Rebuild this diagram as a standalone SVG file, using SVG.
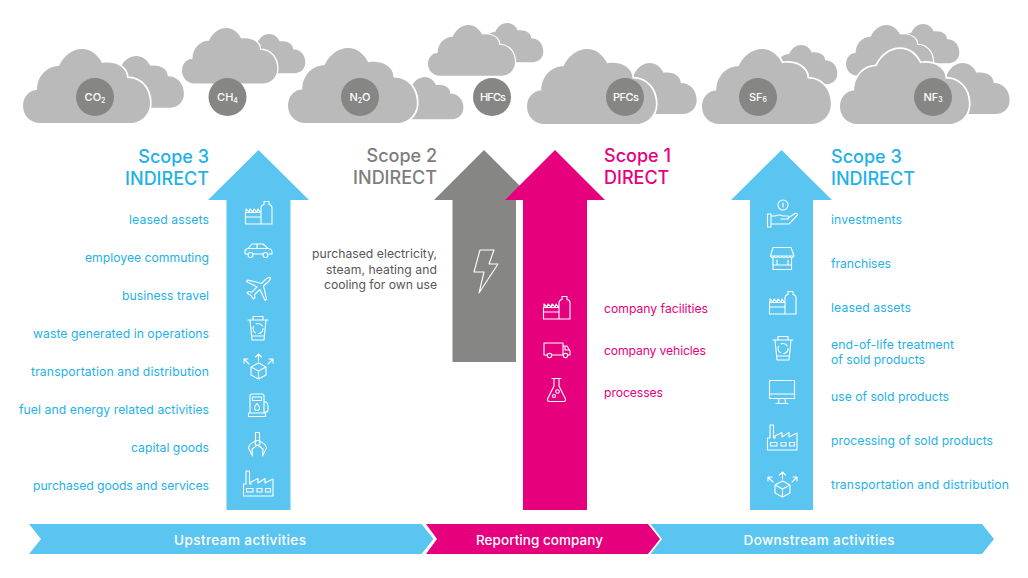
<svg xmlns="http://www.w3.org/2000/svg" width="1028" height="578" viewBox="0 0 1028 578">
<style>
text{font-family:Inter,"Liberation Sans",sans-serif}
.c{fill:#bababa;stroke:#fff;stroke-width:3.4;paint-order:stroke;vector-effect:non-scaling-stroke}
.g{fill:#868684}
.gl{fill:#fff;font-size:11px;font-weight:500;text-anchor:middle}
.i{fill:none;stroke:#fff;stroke-width:1.1;stroke-linejoin:round;stroke-linecap:round}
.h{font-size:18px;font-weight:500}
.t{font-size:12.2px}
.b{fill:#5bc5f2}.p{fill:#e6007e}
.tb{fill:#1eb1e8}.tp{fill:#e6007e}
.e{text-anchor:end}
.bar{fill:#fff;font-size:13.5px;font-weight:500;text-anchor:middle}
.sub{font-size:7px}
</style>
<defs>
<path id="cloud" d="M17 74C7 74 0 66 0 57C0 48 6 41 14 41C14 27 24 17 36 17C41 6 50 0 59 0C68 0 75 6 79 14C92 12 104 18 104 29C118 29 127 40 127 54C127 66 118 74 107 74Z"/>
<g id="i-lease" class="i"><path d="M16 24V8Q16 5 19 4.500V1.500H24V4.500Q27 5 27 8V24ZM16 24H.5V12.500H16M.5 17H16M1 12.500V9L4 12L5 9L8 12L9 9L12 12L13 9L15.500 12.500"/></g>
<g id="i-bin" class="i"><path d="M0 5H20M5 5V1.500H15V5M2 5L4 25H16L18 5M3.500 21H16.500"/><circle cx="10" cy="13.500" r="5" stroke-dasharray="7 3.500"/></g>
<g id="i-box" class="i"><path d="M15.500 10L23 14V22L15.500 26L8 22V14ZM8 14L15.500 18L23 14M15.500 18V26M15.500 8V1M12.500 4L15.500 1L18.500 4M6 11L1 6M1 10V6H5M25 11L30 6M26 6H30V10"/></g>
<g id="i-fact" class="i"><path d="M.5 26V14H3V1H6.500V14L8 14L8 12L15 8.500V13L22 8.500V13L30 9V26ZM3.500 18.500H10V22H3.500ZM14 18.500H19V22H14ZM22.500 18.500H27.500V22H22.500Z"/></g>
</defs>
<g id="clouds">
<g id="cloud-co2"><use href="#cloud" class="c" transform="translate(95 56) scale(.7)"/><use href="#cloud" class="c" transform="translate(23 49)"/><circle class="g" cx="95" cy="97" r="19"/><text class="gl" x="95" y="101">CO<tspan class="sub" dy="2">2</tspan></text></g>
<g id="cloud-ch4"><use href="#cloud" class="c" transform="translate(238 34) scale(.53)"/><use href="#cloud" class="c" transform="translate(182 28) scale(.75)"/><circle class="g" cx="227.500" cy="97" r="19"/><text class="gl" x="227.500" y="101">CH<tspan class="sub" dy="2">4</tspan></text></g>
<g id="cloud-n2o"><use href="#cloud" class="c" transform="translate(391 77) scale(.57)"/><use href="#cloud" class="c" transform="translate(288 48) scale(1.015)"/><circle class="g" cx="360" cy="97" r="19"/><text class="gl" x="360" y="101">N<tspan class="sub" dy="2">2</tspan><tspan dy="-2">O</tspan></text></g>
<g id="cloud-hfcs"><use href="#cloud" class="c" transform="translate(476 23) scale(.53)"/><use href="#cloud" class="c" transform="translate(428 25) scale(.685)"/><circle class="g" cx="492" cy="97" r="19"/><text class="gl" x="493" y="101" textLength="26">HFCs</text></g>
<g id="cloud-pfcs"><use href="#cloud" class="c" transform="translate(609 63) scale(.69)"/><use href="#cloud" class="c" transform="translate(527 49) scale(1.015)"/><circle class="g" cx="625" cy="97" r="19"/><text class="gl" x="626" y="101" textLength="26">PFCs</text></g>
<g id="cloud-sf6"><use href="#cloud" class="c" transform="translate(770 45) scale(.53)"/><use href="#cloud" class="c" transform="translate(702 49) scale(1.015)"/><circle class="g" cx="758" cy="97" r="19"/><text class="gl" x="758" y="101">SF<tspan class="sub" dy="1">6</tspan></text></g>
<g id="cloud-nf3"><use href="#cloud" class="c" transform="translate(892 24) scale(.53)"/><use href="#cloud" class="c" transform="translate(846 25) scale(.685)"/><use href="#cloud" class="c" transform="translate(922 63) scale(.69)"/><use href="#cloud" class="c" transform="translate(840 49) scale(1.015)"/><circle class="g" cx="933" cy="97" r="19"/><text class="gl" x="933" y="101">NF<tspan class="sub" dy="1">3</tspan></text></g>
</g>
<g id="connectors">
<path id="arrow-scope3-up" class="b" d="M258.500 150L309 200H290.500V510H226.500V200H208Z"/>
<path id="arrow-scope2" fill="#868684" d="M484 150L534 200H516V362H452.500V200H434Z"/>
<path id="arrow-scope1" class="p" d="M555 150L605 200H587V510H523V200H505Z"/>
<path id="arrow-scope3-down" class="b" d="M781.500 150L832 200H813V510H750V200H731Z"/>
</g>
<g id="scope3-upstream">
<text class="h tb e" x="209" y="163">Scope 3</text><text class="h tb e" x="209" y="185">INDIRECT</text>
<g class="t tb e">
<text x="209" y="224" textLength="80">leased assets</text><text x="209" y="262" textLength="124">employee commuting</text><text x="209" y="300" textLength="87">business travel</text><text x="209" y="338" textLength="176">waste generated in operations</text><text x="209" y="376" textLength="178">transportation and distribution</text><text x="209" y="414" textLength="190">fuel and energy related activities</text><text x="209" y="452" textLength="78">capital goods</text><text x="209" y="490" textLength="176">purchased goods and services</text>
</g>
<use href="#i-lease" x="245" y="200"/>
<g class="i" transform="translate(244 243)"><path d="M4 11H1V8Q1 6 4 5.500L8 1H19L24 5.500Q28 6 28 9V11H25M19 11H9M5 5.500H24M13 1V5.500"/><circle cx="6.500" cy="12" r="2.500"/><circle cx="21.500" cy="12" r="2.500"/></g>
<g class="i" transform="translate(246 277)"><path d="M24.500 .5C23 0 21 1 19 3L15.500 6.500L2 3L.5 4.500L11 10L6 15L2.500 14.500L1 16L5 18.500L7.500 22L9 20.500L8.500 17.500L14 12.500L19 23.500L20.500 22L17.500 9L22 5C24 3 25 1.500 24.500 .5Z"/></g>
<use href="#i-bin" x="248" y="315"/>
<use href="#i-box" x="243" y="353"/>
<g class="i" transform="translate(248 393)"><path d="M2 20V3Q2 1 4 1H14Q16 1 16 3V20M.5 20H17.500V23.500H.5ZM4.500 4H13.500V7.500H4.500ZM9 10.500C7.500 12.500 6.500 13.500 6.500 15A2.500 2.500 0 0 0 11.500 15C11.500 13.500 10.500 12.500 9 10.500ZM16 9H18Q20 10 20 13V17Q20 19 18 19H16"/></g>
<g class="i" transform="translate(248 432)"><path d="M7.500 9V.5H11.500V9M7.500 9Q1 12 .5 16L4.500 24L4 17L9.500 13L15 17L14.500 24L18.500 16Q18 12 11.500 9"/><circle cx="9.500" cy="11" r="2.500"/></g>
<use href="#i-fact" x="243" y="470"/>
</g>
<g id="scope2">
<text class="h e" fill="#7d7d7c" x="437" y="162">Scope 2</text><text class="h e" fill="#7d7d7c" x="437" y="184">INDIRECT</text>
<g class="t e" fill="#575756"><text x="437" y="258" textLength="125">purchased electricity,</text><text x="437" y="274" textLength="111">steam, heating and</text><text x="437" y="289" textLength="113">cooling for own use</text></g>
<path class="i" d="M480 250H494L489 264H498L479 293L484 272H474Z"/>
</g>
<g id="scope1">
<text class="h tp" x="604" y="162">Scope 1</text><text class="h tp" x="604" y="184">DIRECT</text>
<g class="t tp"><text x="604" y="313" textLength="104">company facilities</text><text x="604" y="355" textLength="102">company vehicles</text><text x="604" y="397" textLength="59">processes</text></g>
<use href="#i-lease" x="543" y="295"/>
<g class="i" transform="translate(543 342)"><path d="M4 13H1V1H20V13H9M20 4H24L27 9V13H25M20 13H20.500M22 5V8H26"/><circle cx="6.500" cy="13.500" r="2.200"/><circle cx="22.500" cy="13.500" r="2.200"/></g>
<g class="i" transform="translate(547 378)"><path d="M5 .5H14M7 .5V8L.5 21Q0 23.500 2.500 23.500H16.500Q19 23.500 18.500 21L12 8V.5"/><circle cx="10.500" cy="13.500" r="1.800"/><circle cx="7" cy="18" r="1.500"/></g>
</g>
<g id="scope3-downstream">
<text class="h tb" x="831" y="163">Scope 3</text><text class="h tb" x="831" y="185">INDIRECT</text>
<g class="t tb">
<text x="831" y="224" textLength="71">investments</text><text x="831" y="268" textLength="60">franchises</text><text x="831" y="312" textLength="80">leased assets</text><text x="831" y="349" textLength="123">end-of-life treatment</text><text x="831" y="364" textLength="94">of sold products</text><text x="831" y="401" textLength="118">use of sold products</text><text x="831" y="445" textLength="162">processing of sold products</text><text x="831" y="489" textLength="178">transportation and distribution</text>
</g>
<g class="i" transform="translate(767 200)"><circle cx="16" cy="5" r="5"/><path d="M16 3V7M.5 14H4V27H.5ZM4 16H8Q12 14 16 16H21Q23 17 21 19H14M21 18L28 13.500Q31 13 30 15.500L22 24H10L4 24"/></g>
<g class="i" transform="translate(770 247)"><path d="M3 .5H21L24 9L.5 9ZM.5 9Q2 12 4 9.500Q6 12 8 9.500Q10 12 12 9.500Q14 12 16 9.500Q18 12 20 9.500Q22 12 24 9M3 11V22.500H21.500V11M3 18H21.500M7 13V18M18 13V18"/></g>
<use href="#i-lease" x="769" y="290"/>
<use href="#i-bin" x="773" y="335"/>
<g class="i" transform="translate(769 380)"><path d="M1 .5H25Q25.500 .5 25.500 1V18.500H.5V1Q.5 .5 1 .5ZM.5 14H25.500M10 18.500L9.500 23.500M16 18.500L16.500 23.500M7 23.500H19"/></g>
<use href="#i-fact" x="767" y="424"/>
<use href="#i-box" x="767" y="471"/>
</g>
<g id="bar">
<g id="upstream"><path class="b" d="M29 524H421.500L433.500 539L421.500 554H29L41 539Z"/><text class="bar" x="240" y="544.500" textLength="132">Upstream activities</text></g>
<g id="reporting"><path class="p" d="M426 524H648L660 539L648 554H426L437 539Z"/><text class="bar" x="539.500" y="544.500" textLength="127">Reporting company</text></g>
<g id="downstream"><path class="b" d="M650.500 524H982L994 539L982 554H650.500L662 539Z"/><text class="bar" x="819" y="544.500" textLength="151">Downstream activities</text></g>
</g>
</svg>
